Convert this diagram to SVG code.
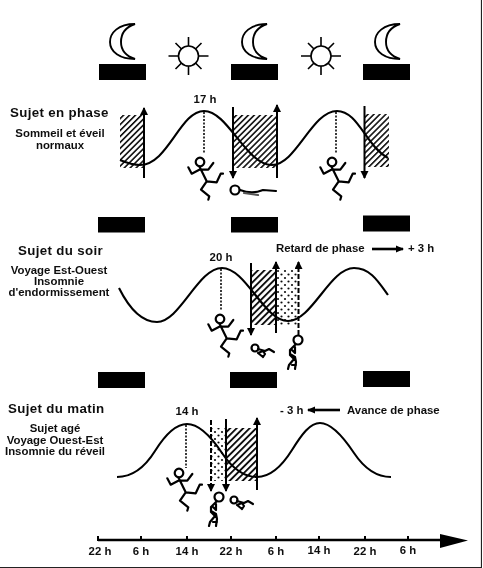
<svg xmlns="http://www.w3.org/2000/svg" xmlns:xlink="http://www.w3.org/1999/xlink" width="483" height="568" viewBox="0 0 483 568">
<style>
text{font-family:"Liberation Sans",Arial,sans-serif;font-weight:bold;fill:#111;font-size:11.4px}
.t{font-size:13.3px;letter-spacing:.35px}
.c{text-anchor:middle}
.bar{fill:#000}
.curve{fill:none;stroke:#000;stroke-width:2.1}
.v{fill:none;stroke:#000;stroke-width:2}
.h{fill:none;stroke:#000;stroke-width:2.6}
.dash{stroke-dasharray:5 2}
.dot{fill:none;stroke:#222;stroke-width:1.8;stroke-dasharray:2 1.5}
.fig{fill:none;stroke:#000;stroke-width:2.200;stroke-linecap:round;stroke-linejoin:round}
.moon{fill:#fff;stroke:#000;stroke-width:1.900}
.sun{fill:#fff;stroke:#000;stroke-width:1.600}
</style>
<defs>
<filter id="soft" x="0" y="0" width="100%" height="100%"><feGaussianBlur stdDeviation="0.4"/></filter>
<pattern id="hatch" width="4.6" height="4.6" patternUnits="userSpaceOnUse" patternTransform="rotate(45)"><rect width="4.6" height="4.6" fill="#fff"/><rect width="1.9" height="4.6" fill="#111"/></pattern>
<pattern id="hatch1" width="4.200" height="4.200" patternUnits="userSpaceOnUse" patternTransform="rotate(45)"><rect width="4.200" height="4.200" fill="#fff"/><rect width="1.6" height="4.200" fill="#111"/></pattern>
<pattern id="dots" width="7" height="7" patternUnits="userSpaceOnUse"><rect width="7" height="7" fill="#fff"/><circle cx="1.5" cy="1.5" r="1.1" fill="#111"/><circle cx="5" cy="5" r="1.1" fill="#111"/></pattern>
<marker id="ah" markerUnits="userSpaceOnUse" markerWidth="9" markerHeight="9" refX="7" refY="4" orient="auto"><path d="M0,0L8,4L0,8z" fill="#000"/></marker>
<marker id="ahb" markerUnits="userSpaceOnUse" markerWidth="9" markerHeight="9" refX="7" refY="4" orient="auto"><path d="M0,.5L8,4L0,7.500z" fill="#000"/></marker>
<g id="moon"><path class="moon" d="M135,24C118,24 110,33 110,42C110,52 120,59 135,59C126,56 121,50 121,42C121,33 126,27 135,24Z"/></g>
<g id="sun"><circle class="sun" r="10"/><path class="sun" d="M0,-10V-19M0,10V19M-10,0H-20M10,0H20M-7,-7L-13,-13M7,-7L13,-13M-7,7L-13,13M7,7L13,13"/></g>
<g id="runner"><circle class="fig" r="4.300"/><path class="fig" d="M-11.700,5.300L-8.300,11.700L-.7,7.700L8.300,7.700L13.300,1M-.7,4.300L6.700,19.300L16.700,20.300L20.700,11.700L23,11.700M6.700,19.300L1,27.700L9.300,34.300L8.300,37.700"/></g>
<g id="stooper"><circle class="fig" r="4.500"/><path class="fig" d="M-2.500,4.500L-8,10L-8,15L-4,19L-9,25L-10,29M-7,9L-3,13L-3,7M-8,14L-3,17L-2,22L-3,29M-6,25H-2"/></g>
<g id="faller"><circle class="fig" r="3.500"/><path class="fig" d="M3,1L10,3L14,1L19,4M8,3L3,5L8,9M8,3L10,6L8,9"/></g>
</defs>
<rect width="483" height="568" fill="#fff"/>
<g filter="url(#soft)">
<path d="M481.500,0V567.500H0" fill="none" stroke="#222" stroke-width="1.200"/>

<g id="sky">
<use xlink:href="#moon" href="#moon"/><use xlink:href="#moon" href="#moon" x="132"/><use xlink:href="#moon" href="#moon" x="265"/>
<use xlink:href="#sun" href="#sun" x="188.500" y="56"/><use xlink:href="#sun" href="#sun" x="321" y="56"/>
</g>
<g id="bars">
<rect class="bar" x="99" y="64" width="47" height="16"/><rect class="bar" x="231" y="64" width="47" height="16"/><rect class="bar" x="363" y="64" width="47" height="16"/>
<rect class="bar" x="98" y="217" width="47" height="15.500"/><rect class="bar" x="231" y="217" width="47" height="15.500"/><rect class="bar" x="363" y="215.500" width="47" height="16"/>
<rect class="bar" x="98" y="372" width="47" height="16"/><rect class="bar" x="230" y="372" width="47" height="16"/><rect class="bar" x="363" y="371" width="47" height="16"/>
</g>

<g id="panel-phase">
<rect x="120" y="115" width="24" height="53" fill="url(#hatch1)"/><rect x="233" y="115" width="44" height="53" fill="url(#hatch1)"/><rect x="365" y="114" width="24" height="53" fill="url(#hatch1)"/>
<path class="curve" d="M120,160C127,163 133,165 140,165C168,165 180,111 204,111C228,111 246,165 272,165C296,165 312,111 337,111C358,111 366,146 388,158"/>
<text x="10" y="117" class="t">Sujet en phase</text>
<text x="60" y="137" class="c">Sommeil et éveil</text><text x="60" y="149" class="c">normaux</text>
<text x="205" y="103" class="c">17 h</text>
<path class="dot" d="M204,112V154M336,112V154"/>
<use xlink:href="#runner" href="#runner" x="200" y="162"/><use xlink:href="#runner" href="#runner" x="332" y="162"/>
<g id="sleeper"><circle class="fig" cx="235" cy="190" r="4.500"/><path class="fig" d="M240,190C248,193 256,193 263,190L276,191"/><path class="fig" style="stroke:#555" d="M244,193L258,195"/></g>
</g>

<g id="panel-soir">
<rect x="251" y="270" width="25" height="55" fill="url(#hatch)"/><rect x="276" y="270" width="22" height="55" fill="url(#dots)"/>
<path class="curve" d="M119,288C128,306 140,322 157,322C180,322 198,268 222,268C246,268 264,321 288,321C312,321 330,268 354,268C370,268 378,281 388,295"/>
<text x="18" y="255" class="t">Sujet du soir</text>
<text x="59" y="274" class="c">Voyage Est-Ouest</text><text x="59" y="285" class="c">Insomnie</text><text x="59" y="296" class="c">d'endormissement</text>
<text x="221" y="261" class="c">20 h</text>
<text x="276" y="252">Retard de phase</text><text x="408" y="252">+ 3 h</text>
<path class="dot" d="M221,269V311"/>
<use xlink:href="#runner" href="#runner" x="220" y="319"/>
<use xlink:href="#faller" href="#faller" x="255" y="348"/>
<use xlink:href="#stooper" href="#stooper" x="298" y="340"/>
</g>

<g id="panel-matin">
<rect x="211" y="428" width="15" height="53" fill="url(#dots)"/><rect x="226" y="428" width="31" height="53" fill="url(#hatch)"/>
<path class="curve" d="M117,477C132,477 145,467 155,451C165,435 175,424 187,424C200,424 212,438 222,453C232,468 244,477 257,477C270,477 282,466 292,450C302,434 310,423 320,423C332,423 344,438 354,453C364,468 376,477 391,477"/>
<text x="8" y="413" class="t">Sujet du matin</text>
<text x="55" y="432" class="c">Sujet agé</text><text x="55" y="444" class="c">Voyage Ouest-Est</text><text x="55" y="455" class="c">Insomnie du réveil</text>
<text x="187" y="415" class="c">14 h</text>
<text x="280" y="414">- 3 h</text><text x="347" y="414">Avance de phase</text>
<path class="dot" d="M186,425V468"/>
<use xlink:href="#runner" href="#runner" x="179" y="473"/>
<use xlink:href="#stooper" href="#stooper" x="219" y="497"/>
<use xlink:href="#faller" href="#faller" x="234" y="500"/>
</g>

<g id="connectors">
<path class="v" marker-end="url(#ah)" d="M144,178V108"/><path class="v" marker-end="url(#ah)" d="M233,107V178"/><path class="v" marker-end="url(#ah)" d="M277,178V105"/><path class="v" marker-end="url(#ah)" d="M364.500,106V178"/>
<path class="v" marker-end="url(#ah)" d="M251,263V335"/><path class="v" marker-end="url(#ah)" d="M276,333V262"/><path class="v dash" marker-end="url(#ah)" d="M298.500,335V262"/>
<path class="h" marker-end="url(#ahb)" d="M372,249H403"/>
<path class="v dash" marker-end="url(#ah)" d="M211,420V491"/><path class="v" marker-end="url(#ah)" d="M226,419V491"/><path class="v" marker-end="url(#ah)" d="M257,490V418"/>
<path class="h" marker-end="url(#ahb)" d="M340,410H308"/>
</g>

<g id="axis">
<path d="M98,540H445" stroke="#000" stroke-width="2.500" fill="none"/>
<path d="M440,534L468,540.500L440,548Z" fill="#000"/>
<path d="M98,536V541M141,536V541M187,536V541M231,536V541M276,536V541M319,536V541M365,536V541M408,536V541" stroke="#000" stroke-width="2"/>
<text x="100" y="555" class="c">22 h</text><text x="141" y="555" class="c">6 h</text><text x="187" y="555" class="c">14 h</text><text x="231" y="555" class="c">22 h</text><text x="276" y="555" class="c">6 h</text><text x="319" y="554" class="c">14 h</text><text x="365" y="555" class="c">22 h</text><text x="408" y="554" class="c">6 h</text>
</g>
</g>
</svg>
